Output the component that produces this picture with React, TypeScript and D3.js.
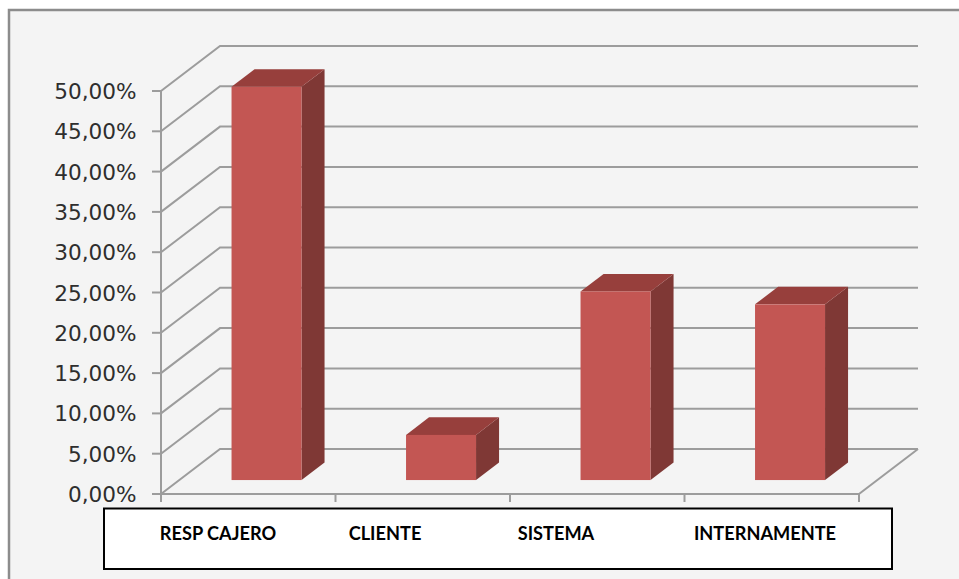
import React from "react";
import * as d3 from "d3";

const categories = ["RESP CAJERO", "CLIENTE", "SISTEMA", "INTERNAMENTE"];
const shares = [48.8, 5.6, 23.4, 21.8];
const tickValues = [0, 5, 10, 15, 20, 25, 30, 35, 40, 45, 50];
const labelCentres = [218, 385, 556, 765];

const WIDTH = 959;
const HEIGHT = 579;
const depthX = 59;
const depthY = 45;
const barDepthStart = 0.31;
const barDepthEnd = 0.7;

const x = d3.scaleBand<string>().domain(categories).range([161, 859]).paddingInner(0).paddingOuter(0);
const y = d3.scaleLinear().domain([0, 50]).range([494, 91]);

// Oblique projection: depth 0 is the front plane, depth 1 the back wall.
const px = (xv: number, depth: number) => xv + depth * depthX;
const py = (yv: number, depth: number) => yv - depth * depthY;
const poly = (pts: [number, number][]) => pts.map((p) => p.join(",")).join(" ");

const fmt = (v: number) => v.toFixed(2).replace(".", ",") + "%";

const GRID = "#9c9c9c";

export default function App() {
  const band = x.bandwidth();
  const barWidth = 70;
  return (
    <svg
      width={WIDTH}
      height={HEIGHT}
      viewBox={`0 0 ${WIDTH} ${HEIGHT}`}
      style={{ position: "absolute", left: 0, top: 0, background: "#fff" }}
    >
      <rect x={0} y={0} width={WIDTH} height={HEIGHT} fill="#fff" />
      <rect x={9} y={10} width={WIDTH} height={HEIGHT} fill="#f4f4f4" stroke="#8c8c8c" strokeWidth={2.5} />

      {/* back wall gridlines and the diagonals running to the front axis */}
      {tickValues.map((t) => (
        <g key={t} fill="none" stroke={GRID} strokeWidth={2}>
          <polyline points={poly([[x.range()[0], y(t)], [px(x.range()[0], 1), py(y(t), 1)], [px(x.range()[1], 1), py(y(t), 1)]])} />
          <line x1={152} x2={161} y1={y(t)} y2={y(t)} />
        </g>
      ))}

      {/* floor edge, vertical axis and category ticks */}
      <g fill="none" stroke={GRID} strokeWidth={2}>
        <line x1={161} x2={161} y1={y(50)} y2={502} />
        <line x1={161} x2={859} y1={y(0)} y2={y(0)} />
        <line x1={859} x2={px(859, 1)} y1={y(0)} y2={py(y(0), 1)} />
        {categories.map((c) => (
          <line key={c} x1={(x(c) as number) + band} x2={(x(c) as number) + band} y1={y(0)} y2={502} />
        ))}
      </g>

      {/* 3D columns */}
      {categories.map((c, i) => {
        const left = (x(c) as number) + (band - barWidth) / 2 + barDepthStart * depthX;
        const right = left + barWidth;
        const top = y(shares[i]);
        const base = y(0);
        const d0 = barDepthStart;
        const d1 = barDepthEnd;
        const dx = (d1 - d0) * depthX;
        const dy = (d1 - d0) * depthY;
        const fy = (v: number) => py(v, d0);
        return (
          <g key={c}>
            <polygon
              points={poly([[right, fy(top)], [right + dx, fy(top) - dy], [right + dx, fy(base) - dy], [right, fy(base)]])}
              fill="#7f3835"
            />
            <polygon
              points={poly([[left, fy(top)], [left + dx, fy(top) - dy], [right + dx, fy(top) - dy], [right, fy(top)]])}
              fill="#973f3c"
            />
            <rect x={left} y={fy(top)} width={barWidth} height={fy(base) - fy(top)} fill="#c35653" />
          </g>
        );
      })}

      {/* value axis labels */}
      {tickValues.map((t) => (
        <text
          key={t}
          x={136.5}
          y={y(t) + 8}
          textAnchor="end"
          fontFamily="'DejaVu Sans', sans-serif"
          fontSize={21.6}
          fill="#2e2e2e"
        >
          {fmt(t)}
        </text>
      ))}

      {/* category strip */}
      <rect x={104} y={508.5} width={788} height={60.5} fill="#fff" stroke="#000" strokeWidth={2} />
      {categories.map((c, i) => (
        <text
          key={c}
          x={labelCentres[i]}
          y={540}
          textAnchor="middle"
          fontFamily="Lato, sans-serif"
          fontWeight={700}
          fontSize={18.2}
          fill="#000"
        >
          {c}
        </text>
      ))}
    </svg>
  );
}
